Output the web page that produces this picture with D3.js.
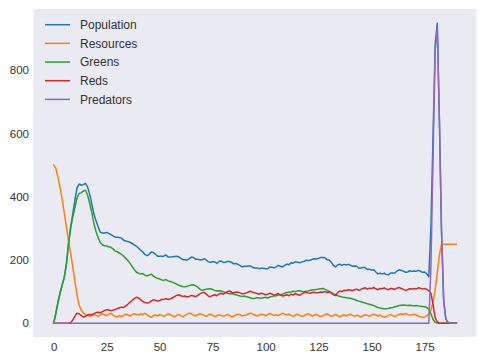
<!DOCTYPE html>
<html>
<head>
<meta charset="utf-8">
<script src="https://cdn.jsdelivr.net/npm/d3@7"></script>
<style>
  html, body { margin: 0; padding: 0; background: #ffffff; }
  svg { display: block; }
  text { font-family: "Liberation Sans", Arial, sans-serif; }
</style>
</head>
<body>
<svg id="chart" width="485" height="360"></svg>
<script>
// ---- data (time steps 0..190) ----
const seriesNames = ["Population", "Resources", "Greens", "Reds", "Predators"];
const xTicks = [0, 25, 50, 75, 100, 125, 150, 175];
const yTicks = [0, 200, 400, 600, 800];

const population = [
  0,30,65,95,120,145,185,250,302,345,387,427,440,436,438,442,431,408,377,345,
  324,305,288,285,285,287,284,280,276,272,272,271,269,262,260,258,256,252,248,244,
  238,231,226,218,214,217,225,224,218,212,212,212,212,216,209,209,210,211,212,210,
  205,201,201,200,204,209,208,202,202,201,200,204,200,194,193,195,194,189,195,197,
  192,193,195,195,192,188,189,186,182,178,180,180,181,181,176,175,175,172,174,174,
  172,172,178,177,175,178,183,180,178,183,187,185,191,190,194,193,191,194,195,199,
  198,199,202,204,203,205,208,208,207,201,200,193,183,178,184,187,183,186,184,186,
  184,180,181,180,174,175,176,176,170,171,168,169,162,156,158,156,158,154,153,159,
  159,159,165,169,167,165,161,162,166,164,165,164,167,165,161,162,157,147,305,592,
  881,948,641,290,75,14,3,1,0,0,0
];
const resources = [
  500,490,462,430,392,350,305,262,222,180,135,90,58,42,33,28,25,22,24,28,
  25,22,26,30,27,24,28,32,26,22,20,24,21,25,29,26,23,27,30,28,
  26,30,27,31,28,22,19,24,26,23,27,25,22,26,30,27,24,20,25,28,
  24,21,25,29,32,30,26,23,27,30,28,25,22,26,29,25,21,24,27,25,
  22,25,28,24,20,23,26,29,26,23,25,27,30,32,29,26,23,26,29,27,
  24,27,31,28,25,27,24,28,32,29,26,29,25,22,26,29,25,22,24,27,
  30,27,23,26,28,24,21,24,27,30,26,22,25,28,24,21,24,27,23,26,
  29,25,22,26,23,20,24,27,25,22,26,29,26,23,26,22,19,22,25,28,
  24,21,25,28,30,27,31,28,25,27,29,26,23,21,18,20,24,30,42,68,
  105,160,215,250,250,250,250,250,250,250,250
];
const greens = [
  0,30,65,95,120,145,185,250,300,335,365,395,410,412,418,420,405,380,350,315,
  290,270,255,248,245,244,242,240,235,228,226,222,218,212,205,198,190,180,170,162,
  158,156,157,152,150,152,155,150,145,142,140,137,136,138,134,132,130,127,124,120,
  118,116,115,117,119,121,122,118,114,108,104,106,108,108,109,107,104,102,103,102,
  100,97,95,93,94,92,90,88,86,85,86,84,82,80,78,79,81,80,79,81,
  82,80,83,85,86,87,89,90,92,95,97,98,99,101,100,102,103,101,99,101,
  102,104,105,106,107,108,109,110,107,104,101,97,93,90,87,85,83,82,81,80,
  79,77,75,72,70,68,66,64,62,60,58,56,53,50,48,47,46,46,47,49,
  50,52,54,56,57,58,57,56,57,56,55,56,55,54,53,52,50,44,30,12,
  3,1,0,0,0,0,0,0,0,0,0
];
const reds = [
  0,0,0,0,0,0,0,0,2,10,22,32,30,24,20,22,26,28,27,30,
  34,35,33,37,40,43,42,40,41,44,46,49,51,50,55,60,66,72,78,82,
  80,75,69,66,64,65,70,74,73,70,72,75,76,78,75,77,80,84,88,90,
  87,85,86,83,85,88,86,84,88,93,96,98,92,86,84,88,90,87,92,95,
  92,96,100,102,98,96,99,98,96,93,94,96,99,101,98,96,94,92,95,93,
  90,92,95,92,89,91,94,90,86,88,90,87,92,89,94,91,88,93,96,98,
  96,95,97,98,96,97,99,98,100,97,99,96,90,88,97,102,100,104,103,106,
  105,103,106,108,104,107,110,112,108,111,110,113,109,106,110,109,112,108,106,110,
  109,107,111,113,110,107,104,106,109,108,110,108,112,111,108,110,107,103,95,60,
  18,4,1,0,0,0,0,0,0,0,0
];
const predators = [
  0,0,0,0,0,0,0,0,0,0,0,0,0,0,0,0,0,0,0,0,
  0,0,0,0,0,0,0,0,0,0,0,0,0,0,0,0,0,0,0,0,
  0,0,0,0,0,0,0,0,0,0,0,0,0,0,0,0,0,0,0,0,
  0,0,0,0,0,0,0,0,0,0,0,0,0,0,0,0,0,0,0,0,
  0,0,0,0,0,0,0,0,0,0,0,0,0,0,0,0,0,0,0,0,
  0,0,0,0,0,0,0,0,0,0,0,0,0,0,0,0,0,0,0,0,
  0,0,0,0,0,0,0,0,0,0,0,0,0,0,0,0,0,0,0,0,
  0,0,0,0,0,0,0,0,0,0,0,0,0,0,0,0,0,0,0,0,
  0,0,0,0,0,0,0,0,0,0,0,0,0,0,0,0,0,0,180,520,
  860,932,640,290,75,14,3,1,0,0,0
];

const seriesValues = [population, resources, greens, reds, predators];
const colors = ["#1f77b4", "#ff7f0e", "#2ca02c", "#d62728", "#9467bd"];

// ---- layout ----
const svg = d3.select("#chart");
const plot = { left: 33.5, right: 476.5, top: 9, bottom: 337 };

const x = d3.scaleLinear().domain([-9.5, 199.5]).range([plot.left, plot.right]);
const y = d3.scaleLinear().domain([-43.3, 992.7]).range([plot.bottom, plot.top]);

svg.append("rect")
  .attr("x", plot.left).attr("y", plot.top)
  .attr("width", plot.right - plot.left).attr("height", plot.bottom - plot.top)
  .attr("fill", "#EAEAF2");

// axes (no tick marks, no domain line)
const xAxis = d3.axisBottom(x).tickValues(xTicks).tickSize(0).tickPadding(6).tickFormat(d3.format("d"));
const gx = svg.append("g").attr("transform", `translate(0,${plot.bottom})`).call(xAxis);
gx.select(".domain").remove();
gx.selectAll("text").attr("font-size", "11.5px").attr("fill", "#333").attr("font-family", "'Liberation Sans', Arial, sans-serif");

const yAxis = d3.axisLeft(y).tickValues(yTicks).tickSize(0).tickPadding(4.5).tickFormat(d3.format("d"));
const gy = svg.append("g").attr("transform", `translate(${plot.left},0)`).call(yAxis);
gy.select(".domain").remove();
gy.selectAll("text").attr("font-size", "11.5px").attr("fill", "#333").attr("font-family", "'Liberation Sans', Arial, sans-serif");

// lines
const clip = svg.append("clipPath").attr("id", "clip").append("rect")
  .attr("x", plot.left).attr("y", plot.top)
  .attr("width", plot.right - plot.left).attr("height", plot.bottom - plot.top);

const line = d3.line().x((d, i) => x(i)).y(d => y(d));
const gLines = svg.append("g").attr("clip-path", "url(#clip)");
seriesValues.forEach((vals, k) => {
  gLines.append("path")
    .datum(vals)
    .attr("d", line)
    .attr("fill", "none")
    .attr("stroke", colors[k])
    .attr("stroke-width", 1.5)
    .attr("stroke-linejoin", "round")
    .attr("stroke-linecap", "square");
});

// legend
const legend = svg.append("g").attr("transform", "translate(45,24.7)");
seriesNames.forEach((name, k) => {
  const g = legend.append("g").attr("transform", `translate(0,${k * 18.67})`);
  g.append("line").attr("x1", 0).attr("x2", 25).attr("y1", 0).attr("y2", 0)
    .attr("stroke", colors[k]).attr("stroke-width", 1.5);
  g.append("text").attr("x", 35).attr("y", 0).attr("dy", "0.35em")
    .attr("font-size", "12px").attr("fill", "#333").text(name);
});
</script>
</body>
</html>
